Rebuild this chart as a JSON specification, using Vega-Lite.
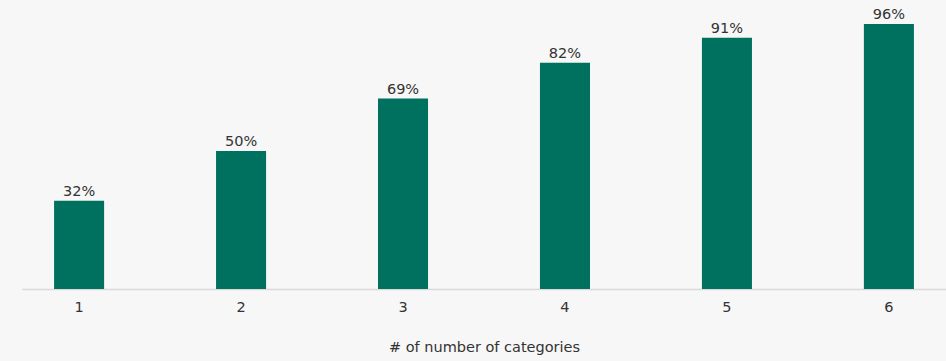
{
  "$schema": "https://vega.github.io/schema/vega-lite/v6.json",
  "autosize": "none",
  "width": 924,
  "height": 276,
  "padding": {"left": 22, "top": 13, "right": 0, "bottom": 72},
  "background": "#f7f7f7",
  "config": {"view": {"stroke": null}, "font": "DejaVu Sans"},
  "data": {"values": [
    {"cat": "1", "value": 0.32},
    {"cat": "2", "value": 0.50},
    {"cat": "3", "value": 0.69},
    {"cat": "4", "value": 0.82},
    {"cat": "5", "value": 0.91},
    {"cat": "6", "value": 0.96}
  ]},
  "encoding": {
    "x": {"field": "cat", "type": "ordinal", "title": "# of number of categories",
      "scale": {"paddingInner": 0.691, "paddingOuter": 0.198},
      "axis": {"labelAngle": 0, "ticks": false, "domainColor": "#d9d9d9", "domainWidth": 1.5,
        "labelFontSize": 14.5, "labelColor": "#333333", "labelPadding": 11,
        "titleFontSize": 14.5, "titleFontWeight": "normal", "titleColor": "#333333", "titlePadding": 27}},
    "y": {"field": "value", "type": "quantitative", "scale": {"domain": [0, 1]}, "axis": null}
  },
  "layer": [
    {"mark": {"type": "bar", "color": "#00715e"}},
    {"mark": {"type": "text", "baseline": "bottom", "dy": -2, "fontSize": 14.5, "color": "#333333"},
     "encoding": {"text": {"field": "value", "type": "quantitative", "format": ".0%"}}}
  ]
}
